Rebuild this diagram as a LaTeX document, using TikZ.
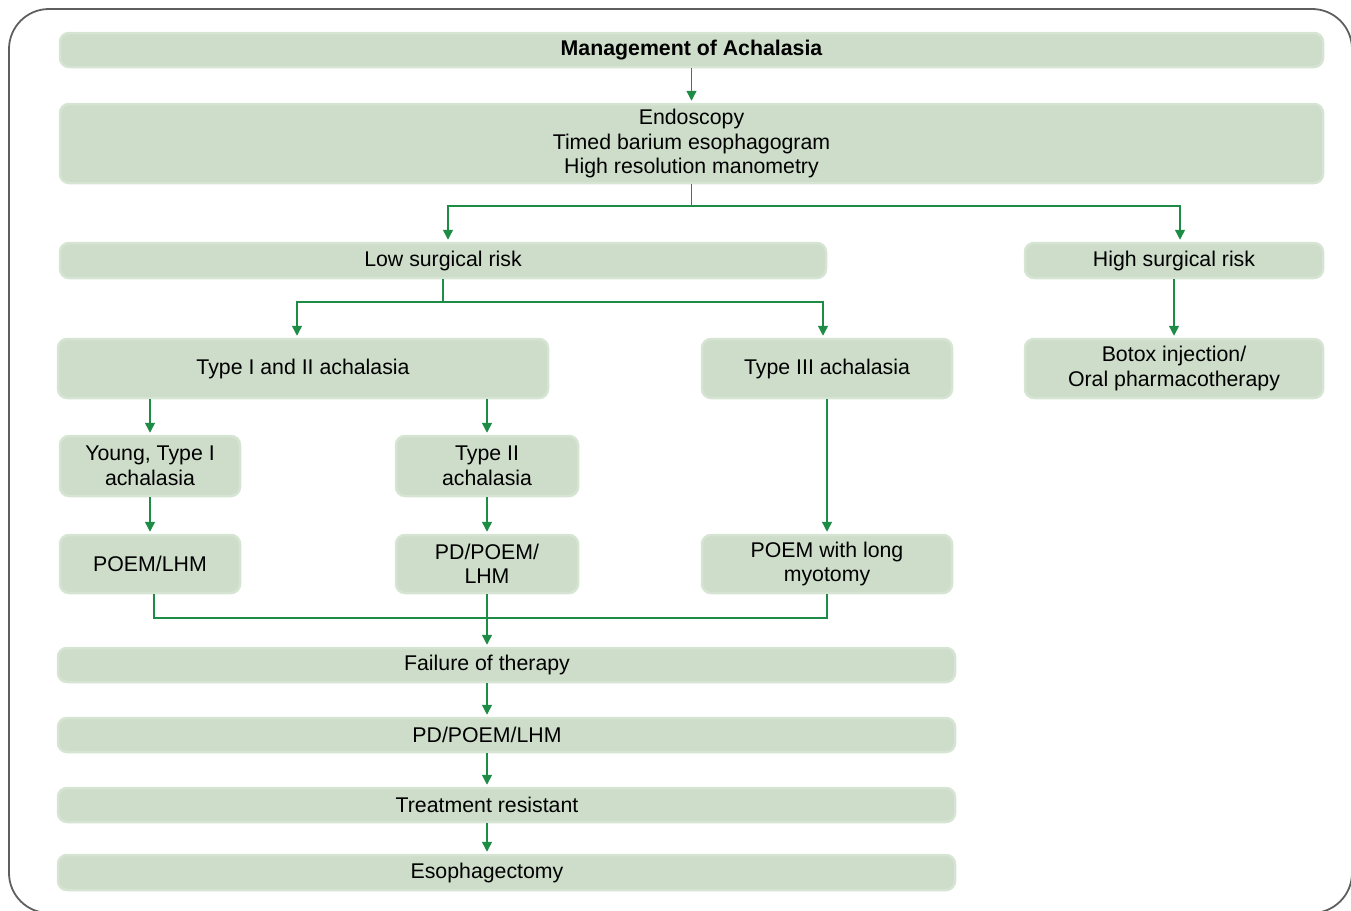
\documentclass[tikz,border=0pt]{standalone}
\usepackage{fontspec}
\setmainfont{Liberation Sans}
\usetikzlibrary{arrows.meta}
\definecolor{boxgreen}{RGB}{205,221,201}
\definecolor{boxedge}{RGB}{214,228,211}
\definecolor{arrgreen}{RGB}{30,140,70}
\definecolor{framegray}{RGB}{95,95,95}
\begin{document}
\begin{tikzpicture}[x=1pt,y=-1pt,
  box/.style={fill=boxgreen, draw=boxedge, line width=2.5pt, rounded corners=9pt,
    inner sep=0pt, align=center, font=\fontsize{21.3}{24.5}\selectfont},
  ln/.style={draw=arrgreen, line width=1.4pt},
  arr/.style={ln, -{Triangle[length=10pt,width=10pt]}, shorten >=2pt}]
\useasboundingbox (0,0) rectangle (1351,910);
\begin{scope}
\clip (0,0) rectangle (1351,910);
\draw[framegray, line width=1.8pt, rounded corners=40pt] (9,9) rectangle (1352,913);
\end{scope}

% boxes, placed by centre with their sizes
\node[box, minimum width=1263, minimum height=34] (title) at (691.5,50) {\bfseries Management of Achalasia};
\node[box, minimum width=1263, minimum height=79] (endo) at (691.5,143.5)
  {Endoscopy\\Timed barium esophagogram\\High resolution manometry};
\node[box, minimum width=766, minimum height=35] (low) at (443,260.5) {Low surgical risk};
\node[box, minimum width=298, minimum height=35] (high) at (1174,260.5) {High surgical risk};
\node[box, minimum width=490, minimum height=59] (t12) at (303,368.5) {Type I and II achalasia};
\node[box, minimum width=250, minimum height=59] (t3) at (827,368.5) {Type III achalasia};
\node[box, minimum width=298, minimum height=59] (botox) at (1174,368.5)
  {Botox injection/\\Oral pharmacotherapy};
\node[box, minimum width=180, minimum height=60] (young) at (150,466) {Young, Type I\\achalasia};
\node[box, minimum width=182, minimum height=60] (t2) at (487,466) {Type II\\achalasia};
\node[box, minimum width=180, minimum height=58] (poemlhm) at (150,564) {POEM/LHM};
\node[box, minimum width=182, minimum height=58] (pdpoem) at (487,564) {PD/POEM/\\LHM};
\node[box, minimum width=250, minimum height=58] (poemlong) at (827,564) {POEM with long\\myotomy};
\node[box, minimum width=897, minimum height=34] (fail) at (506.5,665) {\hspace*{-39pt}Failure of therapy};
\node[box, minimum width=897, minimum height=34] (pd) at (506.5,735) {\hspace*{-39pt}PD/POEM/LHM};
\node[box, minimum width=897, minimum height=34] (resist) at (506.5,805) {\hspace*{-39pt}Treatment resistant};
\node[box, minimum width=897, minimum height=35] (esoph) at (506.5,872.5) {\hspace*{-39pt}Esophagectomy};

% junction points of the branching lines
\coordinate (j1) at (691.5,206);
\coordinate (j2) at (443,302);
\coordinate (j3) at (487,618);

% connectors
\draw[arr] (title) -- (endo);
\draw[ln] (endo.south) -- (j1);
\draw[arr] (j1) -| ([xshift=5pt]low.north);
\draw[arr] (j1) -| ([xshift=6pt]high.north);
\draw[ln] (low.south) -- (j2);
\draw[arr] (j2) -| ([xshift=-6pt]t12.north);
\draw[arr] (j2) -| ([xshift=-4pt]t3.north);
\draw[arr] (high) -- (high |- botox.north);
\draw[arr] (young |- t12.south) -- (young.north);
\draw[arr] (t2 |- t12.south) -- (t2.north);
\draw[arr] (young) -- (poemlhm);
\draw[arr] (t2) -- (pdpoem);
\draw[arr] (t3) -- (poemlong);
\draw[ln] ([xshift=4pt]poemlhm.south) |- (j3) -| (poemlong.south);
\draw[arr] (pdpoem.south) -- (pdpoem.south |- fail.north);
\draw[arr] (pdpoem.south |- fail.south) -- (pdpoem.south |- pd.north);
\draw[arr] (pdpoem.south |- pd.south) -- (pdpoem.south |- resist.north);
\draw[arr] (pdpoem.south |- resist.south) -- (pdpoem.south |- esoph.north);
\end{tikzpicture}
\end{document}
